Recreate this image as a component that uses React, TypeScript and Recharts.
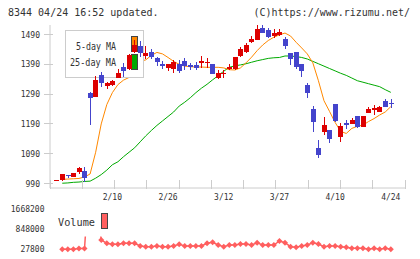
import React from 'react';
import { ComposedChart, Bar, Line, XAxis, YAxis } from 'recharts';

const W = 420;
const H = 259;

const RED = '#dd0000';
const BLUE = '#4444cc';
const ORANGE = '#ff8800';
const GREEN = '#00aa00';
const VOL = '#ff5f5f';
const AXIS = '#cccccc';
const TEXT = '#333333';
const MONO = '"DejaVu Sans Mono", "Liberation Mono", monospace';

const labelTicks = [10, 20, 30, 40, 50, 60];
const labelText = ['2/10', '2/26', '3/12', '3/27', '4/10', '4/24'];
const priceTicks = [990, 1090, 1190, 1290, 1390, 1490];
const volumeTicks = [27800, 848000, 1668200];

const opens = [1002, 1001, 1019, 1012, 1029, 1033, 1295, 1281, 1354, 1318, 1320, 1345, 1382, 1376, 1430, 1452, 1419, 1432, 1410, 1390, 1379, 1374, 1391, 1401, 1388, 1388, 1396, 1393, 1390, 1343, 1358, 1375, 1373, 1419, 1432, 1466, 1472, 1511, 1505, 1486, 1490, 1475, 1427, 1432, 1391, 1320, 1240, 1110, 1164, 1170, 1257, 1147, 1194, 1190, 1216, 1181, 1228, 1238, 1231, 1268, 1259];
const highs = [1002, 1023, 1020, 1026, 1046, 1046, 1298, 1352, 1365, 1332, 1337, 1376, 1393, 1425, 1471, 1468, 1451, 1443, 1415, 1401, 1391, 1404, 1404, 1410, 1396, 1399, 1418, 1410, 1390, 1371, 1371, 1391, 1414, 1449, 1460, 1486, 1521, 1521, 1513, 1508, 1507, 1483, 1428, 1433, 1392, 1328, 1250, 1136, 1214, 1171, 1258, 1192, 1203, 1209, 1217, 1217, 1248, 1253, 1249, 1273, 1273];
const lows = [1002, 1000, 1009, 1011, 1022, 996, 1186, 1281, 1313, 1307, 1318, 1345, 1348, 1372, 1428, 1415, 1407, 1407, 1385, 1376, 1369, 1362, 1360, 1371, 1371, 1371, 1379, 1377, 1356, 1340, 1343, 1371, 1372, 1415, 1427, 1460, 1470, 1494, 1477, 1477, 1485, 1441, 1388, 1374, 1348, 1278, 1164, 1077, 1153, 1125, 1197, 1130, 1173, 1189, 1178, 1180, 1227, 1220, 1230, 1247, 1242];
const closes = [1002, 1022, 1014, 1025, 1041, 1009, 1276, 1337, 1326, 1326, 1335, 1362, 1367, 1421, 1455, 1427, 1427, 1415, 1397, 1386, 1390, 1399, 1367, 1385, 1380, 1378, 1402, 1399, 1356, 1360, 1361, 1382, 1413, 1441, 1455, 1475, 1508, 1496, 1483, 1494, 1500, 1452, 1408, 1382, 1369, 1295, 1197, 1086, 1186, 1138, 1200, 1183, 1187, 1203, 1181, 1216, 1240, 1242, 1248, 1248, 1256];
const ma5 = [null, 1004, 1005, 1006, 1007, 1012, 1022, 1095, 1190, 1255, 1295, 1322, 1337, 1346, 1375, 1400, 1405, 1420, 1430, 1425, 1413, 1400, 1390, 1384, 1382, 1381, 1381, 1380, 1380, 1380, 1378, 1372, 1371, 1378, 1395, 1414, 1436, 1455, 1470, 1481, 1489, 1495, 1485, 1464, 1445, 1425, 1395, 1335, 1268, 1232, 1195, 1165, 1158, 1175, 1182, 1186, 1198, 1208, 1220, 1230, 1248];
const ma25 = [null, 991, 992, 994, 995, 997, 998, 1008, 1020, 1035, 1053, 1063, 1080, 1095, 1110, 1130, 1150, 1168, 1185, 1200, 1215, 1230, 1250, 1263, 1278, 1295, 1310, 1323, 1338, 1352, 1367, 1380, 1385, 1388, 1392, 1397, 1402, 1406, 1410, 1412, 1413, 1418, 1418, 1416, 1413, 1408, 1400, 1392, 1384, 1376, 1368, 1360, 1353, 1344, 1335, 1330, 1325, 1320, 1315, 1305, 1296];
const volumes = [null, 20000, 18000, 20000, 45000, 45000, 3500000, 2500000, 397000, 261000, 220000, 220000, 261000, 261000, 261000, 151000, 122000, 122000, 151000, 122000, 122000, 151000, 220000, 151000, 151000, 151000, 151000, 261000, 302000, 192000, 122000, 192000, 192000, 233000, 233000, 192000, 286000, 192000, 192000, 192000, 356000, 286000, 122000, 98000, 151000, 192000, 286000, 233000, 122000, 151000, 151000, 122000, 98000, 57000, 57000, 57000, 16000, 57000, 16000, 57000, 16000];

const data = opens.map((o, i) => ({
  i,
  open: o,
  high: highs[i],
  low: lows[i],
  close: closes[i],
  range: [lows[i], highs[i]],
  ma5: ma5[i],
  ma25: ma25[i],
  vol: volumes[i],
}));

const X0 = -1.2;
const X1 = 62.55;
const gridTicks = Array.from({ length: 12 }, (_, k) => X0 + (k * (X1 - X0)) / 11);
const xTicks = [...gridTicks, ...labelTicks].sort((a, b) => a - b);

const PRICE_DOMAIN = [975, 1522];
const VOL_DOMAIN = [-177250, 1791230];

const XTick = (props: any) => {
  const { x, y, payload } = props;
  const li = labelTicks.indexOf(payload.value);
  if (li >= 0) {
    return (
      <text x={x} y={y + 12.3} textAnchor="middle" fontFamily={MONO} fontSize={8} fill={TEXT}>
        {labelText[li]}
      </text>
    );
  }
  return <line x1={x} x2={x} y1={y - 8} y2={y + 1} stroke={AXIS} shapeRendering="crispEdges" />;
};

const YTick = (props: any) => {
  const { x, y, payload } = props;
  return (
    <g>
      <line x1={x - 6} x2={x + 3} y1={y} y2={y} stroke={AXIS} shapeRendering="crispEdges" />
      <text x={x - 10} y={y + 3} textAnchor="end" fontFamily={MONO} fontSize={8} fill={TEXT}>
        {payload.value}
      </text>
    </g>
  );
};

const VTick = (props: any) => {
  const { x, y, payload } = props;
  return (
    <text x={x - 5.5} y={y + 3} textAnchor="end" fontFamily={MONO} fontSize={8} fill={TEXT}>
      {payload.value}
    </text>
  );
};

const Candle = (props: any) => {
  const { x, y, width, height, payload } = props;
  if (x == null || y == null || !payload) return null;
  const top = Math.min(y, y + (height || 0));
  const bot = Math.max(y, y + (height || 0));
  const { open, close, high, low } = payload;
  const span = high - low;
  const py = (p: number) => (span === 0 ? top : top + ((high - p) / span) * (bot - top));
  const cx = Math.round(x + width / 2) + 0.5;
  const color = close >= open ? RED : BLUE;
  const bTop = py(Math.max(open, close));
  const bBot = py(Math.min(open, close));
  const bw = 5;
  return (
    <g shapeRendering="crispEdges">
      <line x1={cx} x2={cx} y1={top} y2={bot} stroke={color} strokeWidth={1} />
      <rect x={cx - bw / 2} y={bTop} width={bw} height={Math.max(1, bBot - bTop)} fill={color} />
    </g>
  );
};

const Diamond = (props: any) => {
  const { cx, cy, payload } = props;
  if (cx == null || cy == null || payload == null || payload.vol == null) return null;
  const r = 3;
  return (
    <path
      key={`d${payload.i}`}
      d={`M${cx},${cy - r}L${cx + r},${cy}L${cx},${cy + r}L${cx - r},${cy}Z`}
      fill={VOL}
      stroke="none"
    />
  );
};

const layer: React.CSSProperties = { position: 'absolute', left: 0, top: 0 };

export default function App() {
  return (
    <div style={{ position: 'absolute', left: 0, top: 0, width: W, height: H, background: '#fff', overflow: 'hidden' }}>
      {/* title */}
      <svg width={W} height={H} style={layer}>
        <text x={8} y={16} fontFamily={MONO} fontSize={10} fill={TEXT}>
          8344 04/24 16:52 updated.
        </text>
        <text x={410} y={16} textAnchor="end" fontFamily={MONO} fontSize={10} fill={TEXT}>
          (C)https://www.rizumu.net/
        </text>
      </svg>

      {/* main chart: axes + moving averages */}
      <div style={layer}>
        <ComposedChart width={W} height={H} data={data} margin={{ top: 25, right: 15, bottom: 51, left: 0 }}>
          <XAxis
            dataKey="i"
            type="number"
            domain={[X0, X1]}
            allowDataOverflow
            ticks={xTicks}
            interval={0}
            height={20}
            tickSize={0}
            tickMargin={0}
            tickLine={false}
            axisLine={{ stroke: AXIS }}
            tick={<XTick />}
          />
          <YAxis
            type="number"
            domain={PRICE_DOMAIN}
            allowDataOverflow
            ticks={priceTicks}
            interval={0}
            width={50}
            tickSize={0}
            tickMargin={0}
            tickLine={false}
            axisLine={{ stroke: AXIS }}
            tick={<YTick />}
          />
          <Line dataKey="ma25" stroke={GREEN} strokeWidth={1} dot={false} isAnimationActive={false} />
          <Line dataKey="ma5" stroke={ORANGE} strokeWidth={1} dot={false} isAnimationActive={false} />
        </ComposedChart>
      </div>

      {/* MA legend */}
      <svg width={W} height={H} style={layer}>
        <rect x={65.5} y={30.5} width={78} height={47} fill="#fff" stroke={AXIS} />
        <text x={116} y={50} textAnchor="end" fontFamily={MONO} fontSize={11} fill={TEXT} textLength={40} lengthAdjust="spacingAndGlyphs">
          5-day MA
        </text>
        <text x={116} y={66} textAnchor="end" fontFamily={MONO} fontSize={11} fill={TEXT} textLength={46} lengthAdjust="spacingAndGlyphs">
          25-day MA
        </text>
        <rect x={131.5} y={36.5} width={6} height={15} fill={ORANGE} stroke="#444" />
        <rect x={131.5} y={54.5} width={6} height={15} fill={GREEN} stroke="#444" />
      </svg>

      {/* candles */}
      <div style={layer}>
        <ComposedChart width={W} height={H} data={data} margin={{ top: 25, right: 15, bottom: 71, left: 50 }}>
          <XAxis dataKey="i" type="number" domain={[X0, X1]} allowDataOverflow hide />
          <YAxis type="number" domain={PRICE_DOMAIN} allowDataOverflow hide />
          <Bar dataKey="range" barSize={5} shape={<Candle />} isAnimationActive={false} />
        </ComposedChart>
      </div>

      {/* volume chart */}
      <div style={layer}>
        <ComposedChart width={W} height={H} data={data} margin={{ top: 206, right: 15, bottom: 5, left: 0 }}>
          <XAxis dataKey="i" type="number" domain={[X0, X1]} allowDataOverflow hide />
          <YAxis
            type="number"
            domain={VOL_DOMAIN}
            allowDataOverflow
            ticks={volumeTicks}
            interval={0}
            width={50}
            tickSize={0}
            tickMargin={0}
            tickLine={false}
            axisLine={false}
            tick={<VTick />}
          />
          <Line dataKey="vol" stroke={VOL} strokeWidth={1.5} dot={<Diamond />} isAnimationActive={false} />
        </ComposedChart>
      </div>

      {/* volume legend */}
      <svg width={W} height={H} style={layer}>
        <rect x={54} y={204} width={57} height={32.5} fill="#fff" />
        <text x={58} y={226} fontFamily={MONO} fontSize={11} fill={TEXT} textLength={37} lengthAdjust="spacingAndGlyphs">
          Volume
        </text>
        <rect x={101.5} y={213.5} width={6} height={15} fill={VOL} stroke="#444" />
      </svg>
    </div>
  );
}
